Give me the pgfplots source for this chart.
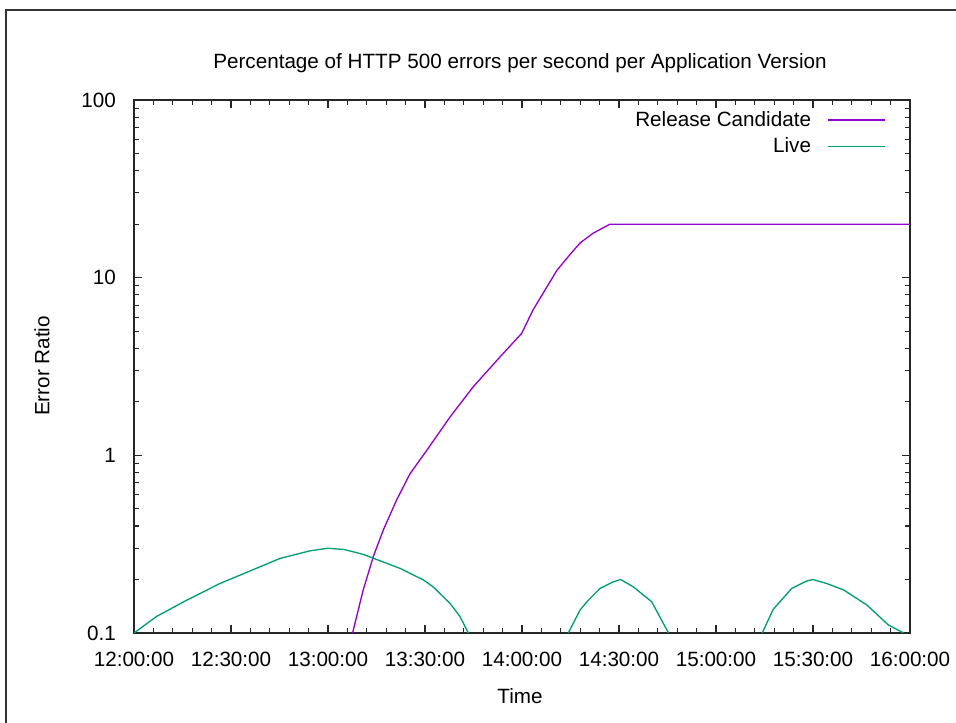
\documentclass[border=0pt]{standalone}
\usepackage{fontspec}
\setmainfont{Liberation Sans}
\usepackage{pgfplots}
\pgfplotsset{compat=1.18}
\definecolor{rc}{HTML}{9400D3}
\definecolor{live}{HTML}{009E73}
\begin{document}
\begin{tikzpicture}[font=\fontsize{15.5}{18}\selectfont]
\useasboundingbox (0,0) rectangle (717pt,542.25pt);
\draw[line width=0.9pt,black!80] (4.5pt,0) -- (4.5pt,534.75pt) -- (717pt,534.75pt);
\node at (390pt,495pt) {Percentage of HTTP 500 errors per second per Application Version};
\node at (390pt,20.25pt) {Time};
\node[rotate=90] at (31.5pt,267.75pt) {Error Ratio};
\begin{axis}[
  at={(100.5pt,67.5pt)}, anchor=south west,
  scale only axis, width=582pt, height=399.75pt,
  xmin=0, xmax=240, ymode=log, ymin=0.1, ymax=100,
  xtick={0,30,...,240},
  xticklabels={12:00:00,12:30:00,13:00:00,13:30:00,14:00:00,14:30:00,15:00:00,15:30:00,16:00:00},
  minor x tick num=4,
  ytick={0.1,1,10,100}, yticklabels={0.1,1,10,100},
  tick align=inside, major tick length=6pt, minor tick length=3.5pt,
  axis line style={line width=0.9pt,black!85},
  every tick/.style={line width=0.8pt,black!85},
  xticklabel style={yshift=-11pt},
  yticklabel style={xshift=-10pt},
  unbounded coords=jump,
  legend cell align=right, legend plot pos=right,
  legend image code/.code={\path (0pt,0pt); \draw[#1] (10pt,0pt) -- (53pt,0pt);},
  legend style={draw=none, fill=none, at={(1,1)}, anchor=north east, xshift=-15pt, yshift=-4.5pt,
     row sep=3pt, font=\fontsize{15.5}{18}\selectfont},
]
\addplot[rc, line width=1pt] coordinates {
(67.6,0.1) (70.9,0.175) (74,0.269) (77.1,0.38) (81.2,0.56) (85.4,0.79) (90.6,1.07) (97.7,1.64) (104.9,2.43) (113.2,3.58) (119.9,4.86) (123.4,6.58) (130.8,11.0) (135,13.6) (138,15.7) (142,17.8) (147.2,20) (240,20)
};
\addlegendentry{Release Candidate}
\addplot[live, line width=1pt] coordinates {
(0,0.1) (7,0.124) (16.3,0.153) (26.6,0.19) (39,0.236) (45.2,0.263) (54.4,0.29) (60,0.3) (65,0.295) (70.9,0.277) (82.3,0.231) (89.5,0.199) (92.5,0.182) (97.7,0.147) (100.8,0.124) (103.4,0.1)
(120,nan)
(134.3,0.1) (138,0.135) (140.5,0.153) (144.1,0.178) (148.2,0.194) (150.5,0.2) (154.4,0.182) (160.1,0.15) (165.3,0.1)
(180,nan)
(194.3,0.1) (197.7,0.136) (203.4,0.178) (208,0.196) (210,0.2) (214.2,0.19) (219.4,0.175) (226.6,0.144) (233.3,0.111) (238,0.1)
};
\addlegendentry{Live}
\end{axis}
\end{tikzpicture}
\end{document}
